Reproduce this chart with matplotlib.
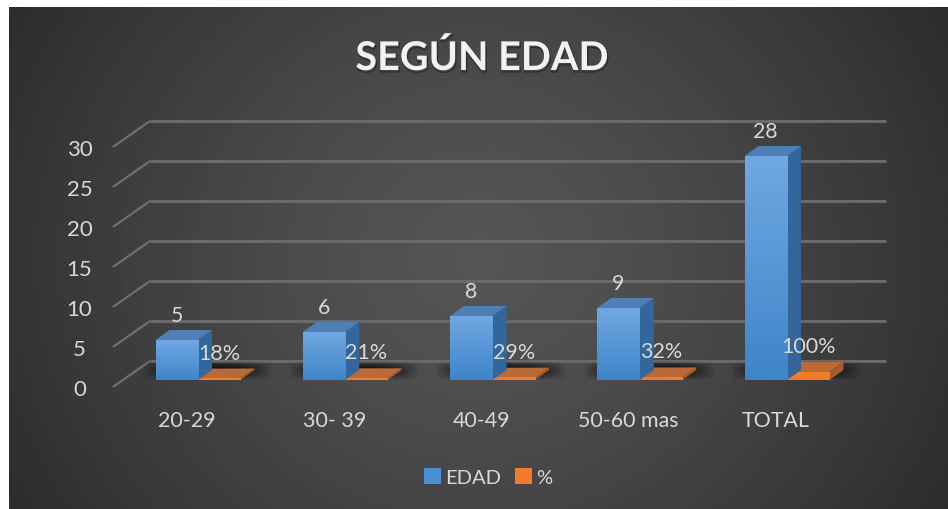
import numpy as np
import matplotlib
matplotlib.use("Agg")
import matplotlib.pyplot as plt
from matplotlib.patches import Polygon, Patch
from matplotlib.transforms import Affine2D
import matplotlib.patheffects as pe

categories = ["20-29", "30- 39", "40-49", "50-60 mas", "TOTAL"]
edad = [5, 6, 8, 9, 28]
pct = [0.18, 0.21, 0.29, 0.32, 1.00]
pct_labels = ["18%", "21%", "29%", "32%", "100%"]
y_ticks = [0, 5, 10, 15, 20, 25, 30]
title = "SEGÚN EDAD"

W, H = 948, 510
plt.rcParams["font.family"] = ["Lato", "DejaVu Sans"]
fig = plt.figure(figsize=(W / 100, H / 100), dpi=100, facecolor="white")

# background
bg = fig.add_axes([9 / W, 0, (W - 9) / W, (H - 8) / H])
bg.set_axis_off()
yy, xx = np.mgrid[0:1:300j, 0:1:500j]
r = np.sqrt(((xx - 0.5) / 0.75) ** 2 + ((yy - 0.5) / 1.3) ** 2)
r = np.clip(r / 0.95, 0, 1)
v = 0.335 - (0.335 - 0.125) * r ** 1.3
bg.imshow(v, cmap="gray", vmin=0, vmax=1, aspect="auto", extent=(0, 1, 0, 1), interpolation="bilinear")

# data axes spanning the figure: 8 px per unit, 147.25 px per category
ax = fig.add_axes([0, 0, 1, 1], facecolor="none")
ax.set_axis_off()
PX_U = 8.0
PX_C = 147.25
X0 = 198.0  # pixel of category 0 centre
Y0 = 381.0  # pixel of value 0 on bars' front plane
ax.set_xlim(-X0 / PX_C, (W - X0) / PX_C)
ax.set_ylim(-(H - Y0) / PX_U, Y0 / PX_U)
BW = 42.5 / PX_C
DX, DY = 14 / PX_C, 10 / PX_U
xs = np.arange(len(categories))


def off(ox, oy):
    return ax.transData + Affine2D().translate(ox, -oy)


# grid: back-plane lines and diagonal wall lines (offset from the bars' plane, in px)
gc = "#6a6a6a"
xl, xr = (150 - X0) / PX_C, (886 - X0) / PX_C
xf = (113 - X0) / PX_C
for t in y_ticks:
    ax.plot([xl, xr], [t, t], color=gc, lw=2.2, transform=off(0, -19), zorder=1, solid_capstyle="butt")
    yb = t + 19 / PX_U
    ax.plot([xl, xf], [yb, t - 7 / PX_U], color="#6e6e6e", lw=1.6, zorder=1, solid_capstyle="butt")

# floor shadows
u = np.linspace(-1, 1, 120)
w = np.linspace(-1, 1, 60)
uu, ww = np.meshgrid(u, w)
for i in xs:
    x1 = i - BW
    x2 = i + BW + DX + 0.02
    a = np.clip(1 - np.abs(uu) ** 2.5, 0, 1) * np.clip(1 - np.abs(ww) ** 2, 0, 1)
    rgba = np.zeros((60, 120, 4))
    rgba[..., 3] = a * 0.78
    ax.imshow(rgba, extent=(x1 - 0.1, x2 + 0.1, -0.02, 2.3), aspect="auto", zorder=2, interpolation="bilinear")


def box(left, height, front_top, front_bot, top_c, side_c, z):
    right = left + BW
    ax.add_patch(Polygon([(right, 0), (right + DX, DY), (right + DX, height + DY), (right, height)],
                         closed=True, fc=side_c, ec="none", zorder=z))
    ax.add_patch(Polygon([(left, height), (left + DX, height + DY), (right + DX, height + DY), (right, height)],
                         closed=True, fc=top_c, ec="none", zorder=z))
    ax.bar(left + BW / 2, height, BW, color=front_bot, zorder=z)
    n = 64
    c0 = np.array(matplotlib.colors.to_rgb(front_top))
    c1 = np.array(matplotlib.colors.to_rgb(front_bot))
    g = (c0[None, :] * (1 - np.linspace(0, 1, n))[:, None] + c1[None, :] * np.linspace(0, 1, n)[:, None])[:, None, :]
    ax.imshow(g, extent=(left, right, 0, height), aspect="auto", zorder=z + 0.1, interpolation="bilinear")


for i in xs:
    box(i - BW, edad[i], "#70a8e2", "#3f85ca", "#4f7fb6", "#33669a", 4)
for i in xs:
    box(float(i), pct[i], "#f0802f", "#ee7a28", "#b96a36", "#a85c2c", 3.5)

txt = "#d9d9d9"
for i in xs:
    ax.annotate(str(edad[i]), (i - BW / 2, edad[i]), xytext=(0, 24.5 * 0.72), textcoords="offset points",
                ha="center", va="center", color=txt, fontsize=15.3, zorder=6)
    ax.annotate(pct_labels[i], (i + BW / 2, pct[i]), xytext=(0, 26 * 0.72), textcoords="offset points",
                ha="center", va="center", color=txt, fontsize=15.5, zorder=6)
    ax.text(i - 11 / PX_C, -(421 - Y0) / PX_U, categories[i], ha="center", va="center", color=txt, fontsize=15.4, zorder=6)

for t in y_ticks:
    ax.text(xf - 33.5 / PX_C, t - 8.5 / PX_U, str(t), ha="center", va="center", color=txt, fontsize=16, zorder=6)

ax.text((482.5 - X0) / PX_C, (Y0 - 59) / PX_U, title, ha="center", va="center",
        color="#f2f2f2", fontsize=28.5, fontweight="bold", zorder=6,
        path_effects=[pe.SimpleLineShadow(offset=(0.6, -1.4), shadow_color="black", alpha=0.35, linewidth=1.0),
                      pe.Normal()])

leg = ax.legend(handles=[Patch(fc="#4a90d6", ec="none", label="EDAD"), Patch(fc="#ef7b2c", ec="none", label="%")],
                loc="center", bbox_to_anchor=(488 / W, 1 - 478 / H), ncol=2, frameon=False, fontsize=14.5,
                handlelength=0.85, handleheight=0.85, handletextpad=0.2, columnspacing=0.7, labelcolor=txt)

ax.set_xlim(-X0 / PX_C, (W - X0) / PX_C)
ax.set_ylim(-(H - Y0) / PX_U, Y0 / PX_U)
fig.savefig("out.png", dpi=100, facecolor="white")
